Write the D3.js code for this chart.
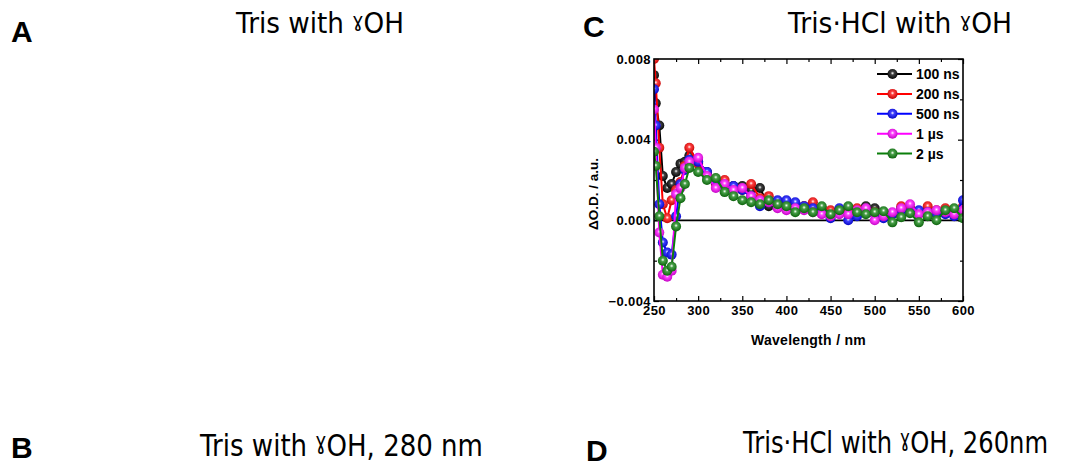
<!DOCTYPE html>
<meta charset="utf-8">
<html>
  <head>
    <script src="https://cdn.jsdelivr.net/npm/d3@7"></script>
    <style>
      body { margin: 0; background: #fff; }
      .tick text { font-family: "Liberation Sans", Arial, sans-serif; font-weight: bold; font-size: 13px; }
    </style>
  </head>
  <body>
    <div id="chart"></div>
    <script type="text/javascript">

        // wavelengths (nm) of the measured points
        var wavelengths = [250, 252, 256, 260, 265, 270, 275, 280, 285, 290,
            300, 310, 320, 330, 340, 350, 360, 370, 380, 390, 400,
            410, 420, 430, 440, 450, 460, 470, 480, 490, 500,
            510, 520, 530, 540, 550, 560, 570, 580, 590, 600];

        var series_names = ["100 ns", "200 ns", "500 ns", "1 \u00b5s", "2 \u00b5s"];
        var series_colors = ["#000000", "#ff0000", "#0000ff", "#ff00ff", "#0a7f0a"];

        // delta O.D. values, one list per delay
        var od_100ns = [0.0072, 0.0058, 0.0047, 0.0022, 0.0016, 0.0018, 0.0024, 0.0028, 0.0029, 0.0032,
            0.0029, 0.0024, 0.0019, 0.0018, 0.0017, 0.0017, 0.0015, 0.0016, 0.0007, 0.0008, 0.0008,
            0.0007, 0.0007, 0.0006, 0.0005, 0.0004, 0.0004, 0.0005, 0.0005, 0.0007, 0.0006,
            0.0003, 0.0003, 0.0006, 0.0006, 0.0004, 0.0005, 0.0004, 0.0005, 0.0004, 0.0006];
        var od_200ns = [0.0080, 0.0068, 0.0036, 0.0008, 0.0001, 0.0010, 0.0015, 0.0019, 0.0027, 0.0036,
            0.0028, 0.0023, 0.0018, 0.0020, 0.0016, 0.0015, 0.0018, 0.0011, 0.0012, 0.0009, 0.0008,
            0.0008, 0.0007, 0.0009, 0.0006, 0.0005, 0.0004, 0.0005, 0.0006, 0.0005, 0.0004,
            0.0002, 0.0003, 0.0007, 0.0006, 0.0004, 0.0007, 0.0005, 0.0006, 0.0005, 0.0007];
        var od_500ns = [0.0065, 0.0047, 0.0008, -0.0011, -0.0016, -0.0017, 0.0002, 0.0018, 0.0025, 0.0030,
            0.0029, 0.0024, 0.0019, 0.0017, 0.0017, 0.0015, 0.0012, 0.0007, 0.0009, 0.0010, 0.0010,
            0.0009, 0.0007, 0.0006, 0.0004, 0.0001, 0.0006, 0.0000, 0.0002, 0.0004, 0.0003,
            0.0001, 0.0003, 0.0005, 0.0004, 0.0005, 0.0004, 0.0003, 0.0003, 0.0002, 0.0010];
        var od_1us = [0.0055, 0.0036, -0.0006, -0.0027, -0.0028, -0.0025, 0.0013, 0.0016, 0.0026, 0.0029,
            0.0031, 0.0022, 0.0016, 0.0018, 0.0015, 0.0016, 0.0012, 0.0010, 0.0009, 0.0006, 0.0005,
            0.0006, 0.0005, 0.0004, 0.0003, 0.0002, 0.0003, 0.0003, 0.0005, 0.0006, 0.0000,
            0.0002, 0.0004, 0.0006, 0.0008, 0.0003, 0.0004, 0.0005, 0.0004, 0.0003, 0.0005];
        var od_2us = [0.0034, 0.0027, 0.0002, -0.0020, -0.0025, -0.0023, -0.0003, 0.0011, 0.0018, 0.0026,
            0.0024, 0.0020, 0.0021, 0.0014, 0.0012, 0.0010, 0.0009, 0.0008, 0.0010, 0.0008, 0.0007,
            0.0004, 0.0006, 0.0004, 0.0007, 0.0003, 0.0005, 0.0007, 0.0004, 0.0003, 0.0004,
            0.00045, -0.0001, 0.00015, 0.00035, -0.0001, 0.0002, 0.0000, 0.0005, 0.0006, 0.0001];

        var x_ticks = [250, 300, 350, 400, 450, 500, 550, 600];
        var y_ticks = [-0.004, 0.000, 0.004, 0.008];

        var panel_letters = ["A", "B", "C", "D"];
        // heading = [before gamma, gamma, after gamma]
        var panel_titles = [["Tris with ", "\u0263", "OH"], ["Tris with ", "\u0263", "OH, 280 nm"],
                            ["Tris\u00b7HCl with ", "\u0263", "OH"], ["Tris\u00b7HCl with ", "\u0263", "OH, 260nm"]];

        var all_series = [od_100ns, od_200ns, od_500ns, od_1us, od_2us];

        var total_width = 1080, total_height = 462;
        var plot = {left: 654, right: 963, top: 59, bottom: 301};

        var svg = d3.select("#chart").append("svg")
            .attr("width", total_width)
            .attr("height", total_height);

        // panel letters and headings
        var letter_pos = [{x: 11, y: 42}, {x: 11, y: 458}, {x: 583, y: 37}, {x: 586, y: 461}];
        var title_pos = [{x: 236, y: 33, w: 168}, {x: 200, y: 456, w: 283},
                         {x: 788, y: 33, w: 224}, {x: 743, y: 453, w: 305}];

        svg.append("g").selectAll("text")
            .data(panel_letters)
            .enter().append("text")
            .attr("x", function(d, i){ return letter_pos[i].x; })
            .attr("y", function(d, i){ return letter_pos[i].y; })
            .style("font-family", "'Liberation Sans', Arial, sans-serif")
            .style("font-weight", "bold")
            .style("font-size", "30px")
            .text(function(d){ return d; });

        var titles = svg.append("g").selectAll("text")
            .data(panel_titles)
            .enter().append("text")
            .attr("x", function(d, i){ return title_pos[i].x; })
            .attr("y", function(d, i){ return title_pos[i].y; })
            .attr("textLength", function(d, i){ return title_pos[i].w; })
            .attr("lengthAdjust", "spacingAndGlyphs")
            .style("font-family", "'DejaVu Sans', sans-serif")
            .style("font-size", function(d, i){ return (i % 2 == 1) ? "31px" : "28px"; });
        titles.append("tspan").text(function(d){ return d[0]; });
        titles.append("tspan").attr("dy", "-0.3em").style("font-size", "72%").text(function(d){ return d[1]; });
        titles.append("tspan").attr("dy", "0.22em").text(function(d){ return d[2]; });

        //Scales
        var x_scale = d3.scaleLinear().domain([250, 600]).range([plot.left, plot.right]);
        var y_scale = d3.scaleLinear().domain([-0.004, 0.008]).range([plot.bottom, plot.top]);

        var x_minor = [275, 325, 375, 425, 475, 525, 575];
        var y_minor = [-0.002, 0.002, 0.006];

        //Axes: ticks point inward
        var g_axes = svg.append("g");
        function draw_axis(axis, translate){
            var g = g_axes.append("g").attr("transform", translate).call(axis);
            g.select(".domain").remove();
            g.selectAll(".tick line").attr("stroke-width", 1.2);
            return g;
        }
        draw_axis(d3.axisBottom(x_scale).tickValues(x_ticks).tickSize(-5).tickPadding(5)
            .tickFormat(d3.format("d")), "translate(0," + plot.bottom + ")");
        draw_axis(d3.axisBottom(x_scale).tickValues(x_minor).tickSize(-3).tickFormat(""), "translate(0," + plot.bottom + ")");
        draw_axis(d3.axisTop(x_scale).tickValues(x_ticks).tickSize(-5).tickFormat(""), "translate(0," + plot.top + ")");
        draw_axis(d3.axisTop(x_scale).tickValues(x_minor).tickSize(-3).tickFormat(""), "translate(0," + plot.top + ")");
        draw_axis(d3.axisLeft(y_scale).tickValues(y_ticks).tickSize(-5).tickPadding(3)
            .tickFormat(d3.format(".3f")), "translate(" + plot.left + ",0)");
        draw_axis(d3.axisLeft(y_scale).tickValues(y_minor).tickSize(-3).tickFormat(""), "translate(" + plot.left + ",0)");
        draw_axis(d3.axisRight(y_scale).tickValues(y_ticks).tickSize(-5).tickFormat(""), "translate(" + plot.right + ",0)");
        draw_axis(d3.axisRight(y_scale).tickValues(y_minor).tickSize(-3).tickFormat(""), "translate(" + plot.right + ",0)");

        g_axes.selectAll(".tick text").style("letter-spacing", "0.4px");

        // zero line
        svg.append("line")
            .attr("x1", x_scale(250)).attr("x2", x_scale(600))
            .attr("y1", y_scale(0)).attr("y2", y_scale(0))
            .attr("stroke", "black")
            .attr("stroke-width", 1.6);

        // axis titles
        svg.append("text")
            .attr("x", (plot.left + plot.right) / 2)
            .attr("y", 345)
            .attr("text-anchor", "middle")
            .style("font-family", "'Liberation Sans', Arial, sans-serif")
            .style("font-weight", "bold")
            .style("font-size", "14px")
            .style("letter-spacing", "0.3px")
            .text("Wavelength / nm");

        svg.append("text")
            .attr("transform", "translate(598,194) rotate(-90)")
            .attr("text-anchor", "middle")
            .style("font-family", "'Liberation Sans', Arial, sans-serif")
            .style("font-weight", "bold")
            .style("font-size", "13.5px")
            .text("\u0394O.D. / a.u.");

        // shaded ball markers
        var defs = svg.append("defs");
        series_colors.forEach(function(c, i){
            var grad = defs.append("radialGradient")
                .attr("id", "ball" + i)
                .attr("cx", "0.5").attr("cy", "0.42").attr("r", "0.6");
            grad.append("stop").attr("offset", "0").attr("stop-color", "#ffffff");
            grad.append("stop").attr("offset", "0.3").attr("stop-color", d3.interpolateRgb(c, "#ffffff")(0.25));
            grad.append("stop").attr("offset", "1").attr("stop-color", d3.interpolateRgb(c, "#000000")(0.25));
        });

        defs.append("clipPath").attr("id", "plot_clip")
            .append("rect")
            .attr("x", plot.left).attr("y", plot.top)
            .attr("width", plot.right - plot.left)
            .attr("height", plot.bottom - plot.top);

        var line = d3.line()
            .x(function(d, i){ return x_scale(wavelengths[i]); })
            .y(function(d){ return y_scale(d); });

        var series_g = svg.append("g").attr("clip-path", "url(#plot_clip)")
            .selectAll("g")
            .data(all_series)
            .enter().append("g");

        series_g.append("path")
            .attr("d", function(d){ return line(d); })
            .attr("fill", "none")
            .attr("stroke", function(d, i){ return series_colors[i]; })
            .attr("stroke-width", 2);

        series_g.each(function(d, si){
            d3.select(this).selectAll("circle")
                .data(d)
                .enter().append("circle")
                .attr("cx", function(v, i){ return x_scale(wavelengths[i]); })
                .attr("cy", function(v){ return y_scale(v); })
                .attr("r", 5)
                .attr("fill", "url(#ball" + si + ")");
        });

        // frame
        svg.append("rect")
            .attr("x", plot.left).attr("y", plot.top)
            .attr("width", plot.right - plot.left)
            .attr("height", plot.bottom - plot.top)
            .attr("fill", "none")
            .attr("stroke", "black")
            .attr("stroke-width", 1.6);

        // legend
        var legend = svg.append("g").selectAll("g")
            .data(series_names)
            .enter().append("g")
            .attr("transform", function(d, i){ return "translate(877," + (74 + i * 19.9) + ")"; });

        legend.append("line")
            .attr("x1", 0).attr("x2", 35)
            .attr("stroke", function(d, i){ return series_colors[i]; })
            .attr("stroke-width", 2);
        legend.append("circle")
            .attr("cx", 15.5).attr("r", 5)
            .attr("fill", function(d, i){ return "url(#ball" + i + ")"; });
        legend.append("text")
            .attr("x", 39)
            .attr("dy", "0.36em")
            .style("font-family", "'Liberation Sans', Arial, sans-serif")
            .style("font-weight", "bold")
            .style("font-size", "14px")
            .text(function(d){ return d; });
    </script>
  </body>
</html>
